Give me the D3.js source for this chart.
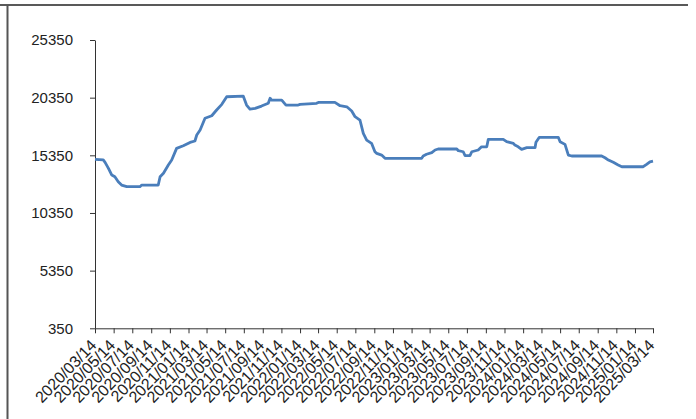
<!DOCTYPE html>
<html>
<head>
<meta charset="utf-8">
<script src="https://cdn.jsdelivr.net/npm/d3@7"></script>
<style>
  html, body { margin: 0; padding: 0; background: #fff; }
  svg { display: block; }
  text { font-family: "Liberation Sans", Arial, sans-serif; fill: #222; }
</style>
</head>
<body>
<svg id="chart" width="696" height="419"></svg>
<script>
// Price series (date, value)
const dates = [
  "2020-03-14","2020-04-10","2020-04-16","2020-04-27","2020-05-08","2020-05-18","2020-05-29","2020-06-09",
  "2020-06-26","2020-08-08","2020-08-14","2020-10-07","2020-10-13","2020-10-24","2020-11-09","2020-11-20",
  "2020-12-06","2020-12-28","2021-01-19","2021-02-04","2021-02-10","2021-02-21","2021-03-09","2021-03-31",
  "2021-04-16","2021-05-03","2021-05-19","2021-07-12","2021-07-23","2021-08-03","2021-08-20","2021-09-10",
  "2021-10-02","2021-10-08","2021-10-13","2021-11-15","2021-11-29","2022-01-08","2022-01-14","2022-03-09",
  "2022-03-15","2022-05-08","2022-05-25","2022-06-16","2022-07-02","2022-07-13","2022-07-29","2022-08-09",
  "2022-08-20","2022-09-05","2022-09-16","2022-09-22","2022-10-08","2022-10-19","2023-02-16","2023-02-21",
  "2023-03-04","2023-03-21","2023-04-01","2023-04-11","2023-06-11","2023-06-16","2023-07-02","2023-07-08",
  "2023-07-24","2023-07-30","2023-08-20","2023-08-31","2023-09-17","2023-09-22","2023-11-10","2023-11-21",
  "2023-12-13","2023-12-18","2023-12-29","2024-01-09","2024-01-26","2024-02-22","2024-02-25","2024-03-07",
  "2024-05-08","2024-05-14","2024-05-30","2024-06-10","2024-06-21","2024-09-27","2024-10-08","2024-10-19",
  "2024-11-04","2024-11-20","2024-12-02","2025-02-10","2025-02-21","2025-03-04","2025-03-14"
];
const prices = [
  15000,14950,14740,14220,13640,13490,13060,12770,
  12630,12630,12770,12770,13490,13790,14510,14940,
  15950,16180,16470,16590,17110,17540,18560,18780,
  19280,19770,20430,20490,19710,19360,19420,19620,
  19860,20300,20140,20140,19710,19710,19770,19860,
  19940,19940,19650,19560,19190,18700,18410,17250,
  16670,16390,15660,15520,15370,15090,15090,15290,
  15440,15580,15810,15900,15900,15750,15660,15320,
  15320,15660,15810,16090,16090,16730,16730,16530,
  16390,16240,16090,15870,16010,16010,16480,16910,
  16910,16530,16300,15370,15290,15290,15140,14940,
  14740,14510,14360,14360,14570,14790,14850
];

// Axis tick values
const yTicks = [350, 5350, 10350, 15350, 20350, 25350];
const xTickLabels = [
  "2020/03/14","2020/05/14","2020/07/14","2020/09/14","2020/11/14",
  "2021/01/14","2021/03/14","2021/05/14","2021/07/14","2021/09/14","2021/11/14",
  "2022/01/14","2022/03/14","2022/05/14","2022/07/14","2022/09/14","2022/11/14",
  "2023/01/14","2023/03/14","2023/05/14","2023/07/14","2023/09/14","2023/11/14",
  "2024/01/14","2024/03/14","2024/05/14","2024/07/14","2024/09/14","2024/11/14",
  "2025/01/14","2025/03/14"
];

const parseDash = d3.timeParse("%Y-%m-%d");
const parseSlash = d3.timeParse("%Y/%m/%d");
const series = dates.map((d, i) => ({ date: parseDash(d), value: prices[i] }));
const xTickDates = xTickLabels.map(parseSlash);

const svg = d3.select("#chart");

// Outer frame: top rule and left rule
svg.append("line").attr("x1", 0).attr("x2", 688).attr("y1", 5).attr("y2", 5)
  .attr("stroke", "#222").attr("stroke-width", 1.3);
svg.append("line").attr("x1", 7.5).attr("x2", 7.5).attr("y1", 5).attr("y2", 419)
  .attr("stroke", "#555").attr("stroke-width", 2);

const x = d3.scaleTime()
  .domain([xTickDates[0], xTickDates[xTickDates.length - 1]])
  .range([95, 653]);
const y = d3.scaleLinear()
  .domain([350, 25350])
  .range([328.3, 40]);

// Y axis
const yAxis = svg.append("g")
  .attr("transform", "translate(95,0)")
  .call(d3.axisLeft(y).tickValues(yTicks).tickFormat(d3.format("d"))
    .tickSize(5).tickSizeOuter(0).tickPadding(17));
yAxis.selectAll("path, line").attr("stroke", "#333");
yAxis.selectAll("text").style("font-size", "15px")
  .style("font-family", "'Liberation Sans', Arial, sans-serif").attr("fill", "#222");

// X axis
const xAxis = svg.append("g")
  .attr("transform", "translate(0,328.3)")
  .call(d3.axisBottom(x).tickValues(xTickDates).tickFormat((d, i) => xTickLabels[i])
    .tickSize(5).tickSizeOuter(0));
xAxis.selectAll("path, line").attr("stroke", "#333");
xAxis.selectAll("text")
  .style("font-size", "16px")
  .style("font-family", "'Liberation Sans', Arial, sans-serif")
  .attr("fill", "#222")
  .attr("text-anchor", "end")
  .attr("y", 0)
  .attr("dy", "0.35em")
  .attr("transform", "translate(-2,14) rotate(-46)");

// Price line
const line = d3.line()
  .x(d => x(d.date))
  .y(d => y(d.value));

svg.append("path")
  .datum(series)
  .attr("fill", "none")
  .attr("stroke", "#4a7ebb")
  .attr("stroke-width", 2.8)
  .attr("stroke-linejoin", "round")
  .attr("d", line);
</script>
</body>
</html>
